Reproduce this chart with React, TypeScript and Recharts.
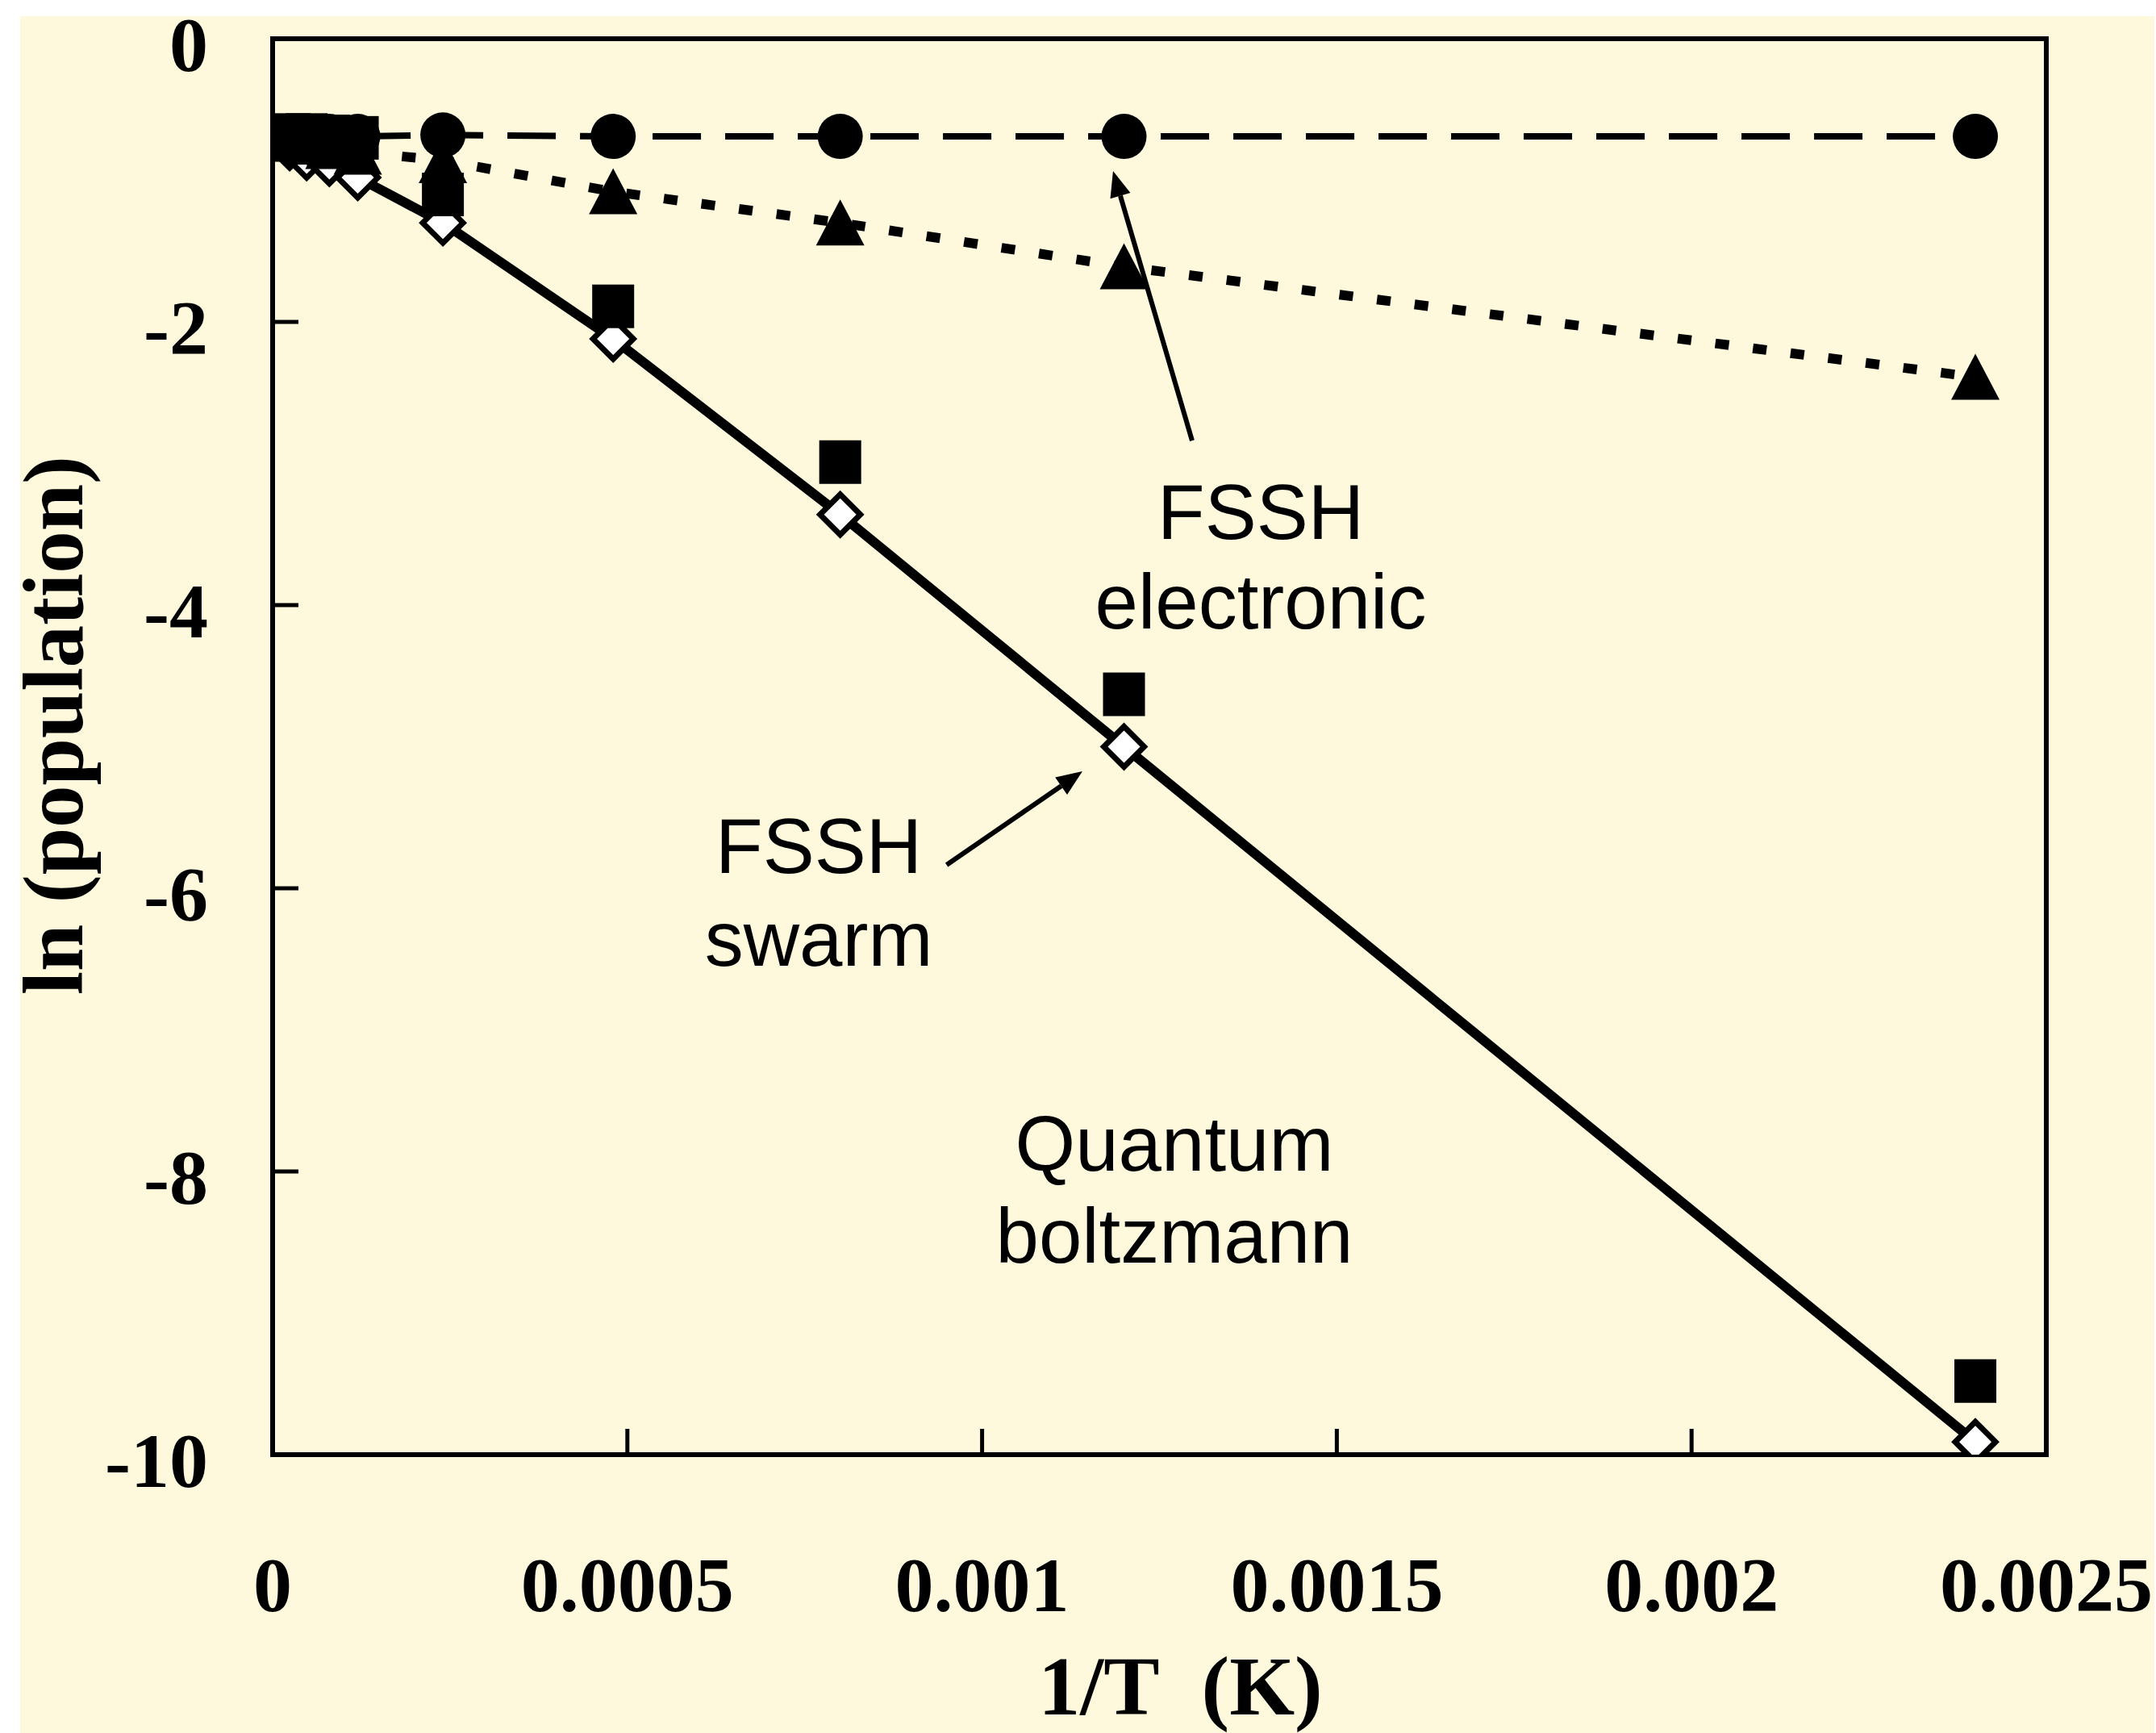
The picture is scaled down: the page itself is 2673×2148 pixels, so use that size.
import React from "react";
import {
  ComposedChart,
  Line,
  Scatter,
  XAxis,
  YAxis,
  ReferenceArea,
  ReferenceDot,
  ReferenceLine,
  Label,
} from "recharts";

// 1/T (K^-1) of the simulated temperatures
const invTemp = [0.000024, 0.000048, 0.00008, 0.00012, 0.00024, 0.00048, 0.0008, 0.0012, 0.0024];
// ln(population)
const quantumBoltzmann = [-0.77, -0.84, -0.88, -0.98, -1.3, -2.12, -3.36, -5.0, -9.91];
const fsshElectronic = [-0.69, -0.69, -0.69, -0.69, -0.68, -0.69, -0.69, -0.69, -0.69];
const fsshDotted = [-0.71, -0.73, -0.76, -0.8, -0.86, -1.08, -1.3, -1.61, -2.39];
const fsshSwarm = [-0.68, -0.68, -0.69, -0.7, -1.1, -1.89, -2.99, -4.63, -9.48];

const xTicks = [0, 0.0005, 0.001, 0.0015, 0.002, 0.0025];
const xTickLabels = ["0", "0.0005", "0.001", "0.0015", "0.002", "0.0025"];
const yTicks = [0, -2, -4, -6, -8, -10];
const yTickLabels = ["0", "-2", "-4", "-6", "-8", "-10"];

// annotation text, placed in data units
const notes = [
  { x: 0.0013927, y: -3.533, text: "FSSH" },
  { x: 0.0013927, y: -4.165, text: "electronic" },
  { x: 0.0007697, y: -5.892, text: "FSSH" },
  { x: 0.0007697, y: -6.547, text: "swarm" },
  { x: 0.001271, y: -7.994, text: "Quantum" },
  { x: 0.001271, y: -8.644, text: "boltzmann" },
];
const arrows = [
  { from: { x: 0.001296, y: -2.838 }, to: { x: 0.0011846, y: -0.934 } },
  { from: { x: 0.00095, y: -5.835 }, to: { x: 0.0011414, y: -5.174 } },
];

const toPoints = (ys: number[]) => invTemp.map((x, i) => ({ x, y: ys[i] }));

const SERIF = "'Liberation Serif', 'Times New Roman', serif";
const SANS = "'Liberation Sans', Helvetica, Arial, sans-serif";

function XTick(props: any) {
  const { x, y, payload } = props;
  const label = xTickLabels[xTicks.indexOf(payload.value)];
  return (
    <g>
      <line x1={x} x2={x} y1={y} y2={y - 32} stroke="#000" strokeWidth={5} />
      <text x={x} y={y + 194} textAnchor="middle" fontFamily={SERIF} fontWeight="bold" fontSize={96} fill="#000">
        {label}
      </text>
    </g>
  );
}

function YTick(props: any) {
  const { x, y, payload } = props;
  const label = yTickLabels[yTicks.indexOf(payload.value)];
  return (
    <g>
      <line x1={x} x2={x + 32} y1={y} y2={y} stroke="#000" strokeWidth={5} />
      <text x={x - 80} y={y + 40} textAnchor="end" fontFamily={SERIF} fontWeight="bold" fontSize={96} fill="#000">
        {label}
      </text>
    </g>
  );
}

function Diamond(p: any) {
  const { cx, cy } = p;
  const h = 25;
  return (
    <path
      key={p.index}
      d={`M${cx},${cy - h}L${cx + h},${cy}L${cx},${cy + h}L${cx - h},${cy}Z`}
      fill="#fff"
      stroke="#000"
      strokeWidth={7}
    />
  );
}

function Circle(p: any) {
  return <circle key={p.index} cx={p.cx} cy={p.cy} r={28} fill="#000" />;
}

function Triangle(p: any) {
  const { cx, cy } = p;
  return (
    <path
      key={p.index}
      d={`M${cx},${cy - 29}L${cx + 30},${cy + 28}L${cx - 30},${cy + 28}Z`}
      fill="#000"
    />
  );
}

function Square(p: any) {
  return <rect x={p.cx - 26} y={p.cy - 27} width={52} height={54} fill="#000" />;
}

function Arrow(props: any) {
  const { x1, y1, x2, y2 } = props;
  const dx = x2 - x1;
  const dy = y2 - y1;
  const len = Math.hypot(dx, dy);
  const ux = dx / len;
  const uy = dy / len;
  const head = 32;
  const half = 13;
  const bx = x2 - ux * head;
  const by = y2 - uy * head;
  return (
    <g>
      <line x1={x1} y1={y1} x2={bx} y2={by} stroke="#000" strokeWidth={6} />
      <polygon
        points={`${x2},${y2} ${bx - uy * half},${by + ux * half} ${bx + uy * half},${by - ux * half}`}
        fill="#000"
      />
    </g>
  );
}

export default function App() {
  return (
    <div style={{ position: "absolute", left: 0, top: 0, width: 2673, height: 2148, background: "#fff" }}>
      <div
        style={{ position: "absolute", left: 25, top: 20, width: 2646, height: 2128, background: "#fef8dd" }}
      />
      <div style={{ position: "absolute", left: 0, top: 0 }}>
        <ComposedChart width={2673} height={2148} margin={{ top: 48, right: 136, bottom: 45, left: 38 }}>
          <XAxis
            type="number"
            dataKey="x"
            domain={[0, 0.0025]}
            ticks={xTicks}
            allowDataOverflow
            height={300}
            axisLine={false}
            tickLine={false}
            tickSize={0}
            tickMargin={0}
            tick={(p: any) => <XTick {...p} />}
            interval={0}
          >
            <Label
              content={({ viewBox }: any) => (
                <text
                  x={viewBox.x + viewBox.width / 2 + 26}
                  y={viewBox.y + 322}
                  textAnchor="middle"
                  fontFamily={SERIF}
                  fontWeight="bold"
                  fontSize={104}
                  fill="#000"
                >
                  {"1/T\u00A0 (K)"}
                </text>
              )}
            />
          </XAxis>
          <YAxis
            type="number"
            dataKey="y"
            domain={[-10, 0]}
            ticks={yTicks}
            allowDataOverflow
            width={300}
            axisLine={false}
            tickLine={false}
            tickSize={0}
            tickMargin={0}
            tick={(p: any) => <YTick {...p} />}
            interval={0}
          >
            <Label
              content={() => (
                <text
                  x={102}
                  y={899}
                  transform="rotate(-90 102 899)"
                  textAnchor="middle"
                  fontFamily={SERIF}
                  fontWeight="bold"
                  fontSize={105}
                  fill="#000"
                >
                  ln (population)
                </text>
              )}
            />
          </YAxis>
          <ReferenceArea
            x1={0}
            x2={0.0025}
            y1={-10}
            y2={0}
            fill="none"
            fillOpacity={0}
            stroke="#000"
            strokeWidth={6}
          />
          <Line
            data={toPoints(quantumBoltzmann)}
            dataKey="y"
            type="linear"
            stroke="#000"
            strokeWidth={12}
            dot={(p: any) => <Diamond key={p.index} {...p} />}
            activeDot={false}
            isAnimationActive={false}
          />
          <Line
            data={toPoints(fsshDotted)}
            dataKey="y"
            type="linear"
            stroke="#000"
            strokeWidth={12}
            strokeDasharray="17 30"
            dot={(p: any) => <Triangle key={p.index} {...p} />}
            activeDot={false}
            isAnimationActive={false}
          />
          <Line
            data={toPoints(fsshElectronic)}
            dataKey="y"
            type="linear"
            stroke="#000"
            strokeWidth={8}
            strokeDasharray="60 30"
            dot={(p: any) => <Circle key={p.index} {...p} />}
            activeDot={false}
            isAnimationActive={false}
          />
          <Scatter
            data={toPoints(fsshSwarm)}
            dataKey="y"
            shape={(p: any) => <Square {...p} />}
            isAnimationActive={false}
          />
          {arrows.map((a, i) => (
            <ReferenceLine key={`a${i}`} segment={[a.from, a.to]} shape={(p: any) => <Arrow {...p} />} />
          ))}
          {notes.map((n, i) => (
            <ReferenceDot
              key={`n${i}`}
              x={n.x}
              y={n.y}
              r={0}
              shape={(p: any) => (
                <text
                  x={p.cx}
                  y={p.cy}
                  textAnchor="middle"
                  fontFamily={SANS}
                  fontSize={96}
                  fill="#000"
                >
                  {n.text}
                </text>
              )}
            />
          ))}
        </ComposedChart>
      </div>
    </div>
  );
}
